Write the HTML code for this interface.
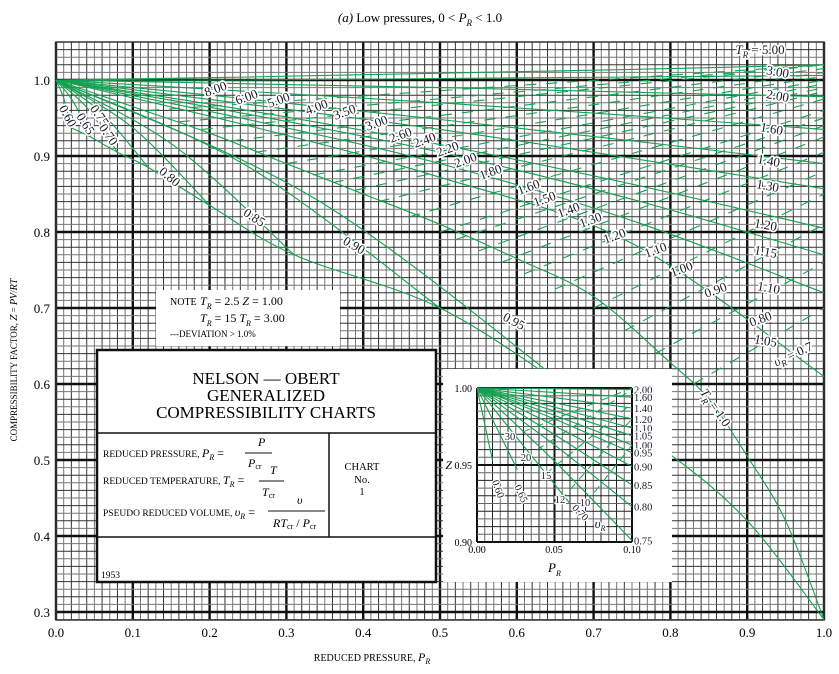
<!DOCTYPE html>
<html><head><meta charset="utf-8"><style>
html,body{margin:0;padding:0;background:#fff}
svg{display:block;font-family:"Liberation Serif",serif}
.lab{font-size:13px;fill:#1a1a2a;stroke:#fff;stroke-width:3.5px;paint-order:stroke;stroke-linejoin:round}
.ilab{font-size:10.5px;fill:#1a1a2a;stroke:#fff;stroke-width:2.5px;paint-order:stroke}
</style></head><body>
<svg id="chart" width="839" height="674" viewBox="0 0 839 674" xmlns="http://www.w3.org/2000/svg">
<text x="420" y="22" text-anchor="middle" font-size="13"><tspan font-style="italic">(a)</tspan>  Low pressures, 0 &lt; <tspan font-style="italic">P</tspan><tspan font-size="9" dy="4" font-style="italic">R</tspan><tspan dy="-4"> &lt; 1.0</tspan></text>
<g id="grid"></g>
<g id="curves"></g>
<g id="labels"></g>
<g id="ticks"></g>
<text x="372" y="661" text-anchor="middle" font-size="10">REDUCED PRESSURE, <tspan font-style="italic" font-size="12">P</tspan><tspan font-size="8" dy="3" font-style="italic">R</tspan></text>
<text transform="translate(17,360) rotate(-90)" text-anchor="middle" font-size="9">COMPRESSIBILITY FACTOR, <tspan font-style="italic" font-size="11">Z</tspan> = <tspan font-style="italic" font-size="10">PV</tspan>/<tspan font-style="italic" font-size="10">RT</tspan></text>

<g>
<rect x="156" y="290" width="184" height="56" fill="#fff"/>
<text x="170" y="305" font-size="10">NOTE</text>
<text x="200" y="305" font-size="12"><tspan font-style="italic">T</tspan><tspan font-size="8" dy="4" font-style="italic">R</tspan><tspan dy="-4"> = 2.5   </tspan><tspan font-style="italic">Z</tspan> = 1.00</text>
<text x="200" y="322" font-size="12"><tspan font-style="italic">T</tspan><tspan font-size="8" dy="4" font-style="italic">R</tspan><tspan dy="-4"> = 15   </tspan><tspan font-style="italic">T</tspan><tspan font-size="8" dy="4" font-style="italic">R</tspan><tspan dy="-4"> = 3.00</tspan></text>
<text x="170" y="337" font-size="9">---DEVIATION &gt; 1.0%</text>
</g>
<g>
<rect x="97" y="350" width="339" height="232" fill="#fff" stroke="#111" stroke-width="2.5"/>
<line x1="97" y1="433" x2="436" y2="433" stroke="#111" stroke-width="1.5"/>
<line x1="97" y1="537" x2="436" y2="537" stroke="#111" stroke-width="1.5"/>
<line x1="329" y1="433" x2="329" y2="537" stroke="#111" stroke-width="1.5"/>
<text x="266" y="384" text-anchor="middle" font-size="17">NELSON — OBERT</text>
<text x="266" y="401" text-anchor="middle" font-size="17">GENERALIZED</text>
<text x="266" y="418" text-anchor="middle" font-size="17">COMPRESSIBILITY CHARTS</text>
<text x="103" y="457" font-size="9.5">REDUCED PRESSURE,  <tspan font-style="italic" font-size="12">P</tspan><tspan font-size="8" dy="3" font-style="italic">R</tspan><tspan dy="-3" font-size="12"> =</tspan></text>
<text x="258" y="446" font-size="12" font-style="italic">P</text>
<line x1="245" y1="453" x2="272" y2="453" stroke="#111"/>
<text x="248" y="467" font-size="12"><tspan font-style="italic">P</tspan><tspan font-size="8" dy="2">cr</tspan></text>
<text x="103" y="484" font-size="9.5">REDUCED TEMPERATURE, <tspan font-style="italic" font-size="12">T</tspan><tspan font-size="8" dy="3" font-style="italic">R</tspan><tspan dy="-3" font-size="12"> =</tspan></text>
<text x="270" y="474" font-size="12" font-style="italic">T</text>
<line x1="259" y1="481" x2="284" y2="481" stroke="#111"/>
<text x="262" y="496" font-size="12"><tspan font-style="italic">T</tspan><tspan font-size="8" dy="2">cr</tspan></text>
<text x="103" y="516" font-size="9.5">PSEUDO REDUCED VOLUME, <tspan font-style="italic" font-size="12">υ</tspan><tspan font-size="8" dy="3" font-style="italic">R</tspan><tspan dy="-3" font-size="12"> =</tspan></text>
<text x="297" y="504" font-size="12" font-style="italic">υ</text>
<line x1="268" y1="511" x2="325" y2="511" stroke="#111"/>
<text x="273" y="527" font-size="12"><tspan font-style="italic">RT</tspan><tspan font-size="8" dy="2">cr</tspan><tspan dy="-2"> / </tspan><tspan font-style="italic">P</tspan><tspan font-size="8" dy="2">cr</tspan></text>
<text x="362" y="470" text-anchor="middle" font-size="10.5">CHART</text>
<text x="362" y="483" text-anchor="middle" font-size="10.5">No.</text>
<text x="362" y="495" text-anchor="middle" font-size="10.5">1</text>
<text x="101" y="578" font-size="9.5">1953</text>
</g>
<g>
<rect x="443" y="369" width="229" height="213" fill="#fff"/>
<g id="igrid"></g><g id="icurves"></g>
<text x="472" y="392" text-anchor="end" font-size="10">1.00</text>
<text x="472" y="469" text-anchor="end" font-size="10"><tspan font-style="italic" font-size="12">Z</tspan>  0.95</text>
<text x="472" y="546" text-anchor="end" font-size="10">0.90</text>
<text x="477" y="553" text-anchor="middle" font-size="10">0.00</text>
<text x="554" y="553" text-anchor="middle" font-size="10">0.05</text>
<text x="632" y="553" text-anchor="middle" font-size="10">0.10</text>
<text x="548" y="572" font-size="13" font-style="italic">P<tspan font-size="8" dy="4">R</tspan></text>
<g id="ilabels"></g>
</g>
</svg>
<script>
const NS="http://www.w3.org/2000/svg";
const isoT=["5.00","3.00","2.00","1.60","1.40","1.30","1.20","1.15","1.10","1.05"];
const isoP=[0,0.25,0.5,0.75,1.0];
const isoZ=[[1,1.004,1.009,1.014,1.02],[1,1.0,1.002,1.004,1.006],[1,0.995,0.99,0.984,0.978],[1,0.985,0.97,0.953,0.935],[1,0.975,0.948,0.92,0.89],[1,0.968,0.935,0.897,0.857],[1,0.96,0.915,0.863,0.805],[1,0.955,0.905,0.843,0.77],[1,0.948,0.89,0.815,0.72],[1,0.94,0.872,0.785,0.61]];
const t1P=[0,0.1,0.2,0.3,0.4,0.5,0.6,0.7,0.8,0.85,0.9,0.95,1.0];
const t1Z=[1,0.965,0.93,0.89,0.85,0.81,0.765,0.715,0.628,0.58,0.505,0.42,0.29];
const subT=["0.60","0.65","0.70","0.75","0.80","0.85","0.90","0.95"];
const subEndP=[0.02,0.045,0.08,0.12,0.2,0.31,0.5,0.68];
const subEndZ=[0.937,0.925,0.905,0.885,0.835,0.77,0.70,0.585];
const satP=[0.02,0.045,0.08,0.12,0.2,0.31,0.5,0.68,0.8,0.9,1.0];
const satZ=[0.937,0.925,0.905,0.885,0.835,0.77,0.70,0.585,0.507,0.42,0.29];
const vR=["8.00","6.00","5.00","4.00","3.50","3.00","2.60","2.40","2.20","2.00","1.80","1.60","1.50","1.40","1.30","1.20","1.10","1.00","0.90","0.80","0.7"];
const vStartP=[0.12,0.16,0.19,0.23,0.26,0.3,0.335,0.36,0.39,0.42,0.46,0.5,0.52,0.55,0.58,0.61,0.65,0.7,0.74,0.78,0.83];
const vStartZ=[0.96,0.945,0.935,0.92,0.905,0.89,0.875,0.865,0.855,0.84,0.82,0.80,0.79,0.775,0.76,0.745,0.725,0.70,0.67,0.64,0.60];
const vEndZ=[1.02,1.02,1.02,1.015,1.01,1.005,1.0,0.995,0.99,0.985,0.975,0.96,0.95,0.94,0.925,0.905,0.88,0.85,0.81,0.76,0.70];
const iT=["2.00","1.60","1.40","1.20","1.10","1.05","1.00","0.95","0.90","0.85","0.80","0.75"];
const iEndZ=[0.999,0.994,0.987,0.98,0.974,0.969,0.963,0.958,0.949,0.937,0.923,0.901];
const iSubT=["0.60","0.65","0.70"];
const iSubP=[0.01,0.026,0.06];
const iSubZ=[0.953,0.947,0.925];
const iV=["30","20","15","12","10"];
const iVP=[0.021,0.031,0.044,0.054,0.07];
const iVZ=[0.968,0.955,0.944,0.927,0.925];
const iVEnd=[1.0,0.999,0.99,0.98,0.963];
const xTicks=["0.0","0.1","0.2","0.3","0.4","0.5","0.6","0.7","0.8","0.9","1.0"];
const yTicks=["1.0","0.9","0.8","0.7","0.6","0.5","0.4","0.3"];
const X=p=>56+768*p, Y=z=>80+(1-z)*760;
const IX=p=>477+1550*p, IY=z=>388+(1-z)*1540;
const G="#14a050";
function el(tag,attrs,parent){const e=document.createElementNS(NS,tag);for(const k in attrs)e.setAttribute(k,attrs[k]);parent.appendChild(e);return e;}
function smooth(pts){let d="M"+pts[0][0].toFixed(1)+","+pts[0][1].toFixed(1);
 for(let i=0;i<pts.length-1;i++){const p0=pts[Math.max(i-1,0)],p1=pts[i],p2=pts[i+1],p3=pts[Math.min(i+2,pts.length-1)];
 const c1=[p1[0]+(p2[0]-p0[0])/6,p1[1]+(p2[1]-p0[1])/6],c2=[p2[0]-(p3[0]-p1[0])/6,p2[1]-(p3[1]-p1[1])/6];
 d+=" C"+c1.map(v=>v.toFixed(1))+" "+c2.map(v=>v.toFixed(1))+" "+p2.map(v=>v.toFixed(1));}return d;}
const grid=document.getElementById('grid');
for(let i=0;i<=100;i++){const x=X(i/100);const l=el('line',{x1:x,y1:42,x2:x,y2:620,stroke:i%10==0?"#111":(i%2?"#777":"#333"),'stroke-width':i%10==0?2.4:1},grid);

}
for(let j=29;j<=105;j++){const y=Y(j/100);const l=el('line',{x1:56,y1:y,x2:824,y2:y,stroke:j%10==0?"#111":(j%2?"#777":"#333"),'stroke-width':j%10==0?2.4:1},grid);

}
el('rect',{x:56,y:42,width:768,height:578,fill:'none',stroke:'#333','stroke-width':1.5},grid);
const curves=document.getElementById('curves');
isoT.forEach((t,k)=>{const p=el('path',{d:smooth(isoP.map((pp,i)=>[X(pp),Y(isoZ[k][i])])),fill:'none',stroke:G,'stroke-width':1.1},curves);

});
{const p=el('path',{d:smooth(t1P.map((pp,i)=>[X(pp),Y(t1Z[i])])),fill:'none',stroke:G,'stroke-width':1.1},curves);

}
subT.forEach((t,k)=>{const ep=subEndP[k],ez=subEndZ[k];const mp=ep/2,mz=1-(1-ez)/2+(1-ez)*0.12;
const p=el('path',{d:smooth([[X(0),Y(1)],[X(mp),Y(mz)],[X(ep),Y(ez)]]),fill:'none',stroke:G,'stroke-width':1.1},curves);

});
{const p=el('path',{d:smooth(satP.map((pp,i)=>[X(pp),Y(satZ[i])])),fill:'none',stroke:G,'stroke-width':1.1},curves);

}
vR.forEach((v,k)=>{const p=el('line',{x1:X(vStartP[k]),y1:Y(vStartZ[k]),x2:X(1),y2:Y(vEndZ[k]),stroke:G,'stroke-width':1.1,'stroke-dasharray':'11 10'},curves);

});
const labels=document.getElementById('labels');
function lab(txt,x,y,rot,parent,cls){const t=el('text',{x:x,y:y,class:cls||'lab','text-anchor':'middle',transform:`rotate(${rot} ${x} ${y})`},parent);t.textContent=txt;

return t;}
const vLabPos=[[217,93],[248,101],[280,104],[318,111],[346,116],[378,127],[402,139],[426,144],[449,153],[467,164],[492,176],[530,191],[546,203],[570,214],[592,224],[616,240],[657,254],[683,273],[717,294],[762,323]];
vLabPos.forEach((q,k)=>lab(vR[k],q[0],q[1],-20,labels));
{const t=lab("",795,358,-25,labels);t.innerHTML='<tspan font-style="italic">υ</tspan><tspan font-size="9" dy="3" font-style="italic">R</tspan><tspan dy="-3"> = 0.7</tspan>';}
const tRight=[["3.00",777,76],["2.00",777,100],["1.60",771,133],["1.40",768,165],["1.30",767,190],["1.20",765,229],["1.15",765,256],["1.10",768,292],["1.05",765,345]];
tRight.forEach(q=>lab(q[0],q[1],q[2],10,labels));
{const t=lab("",760,54,0,labels);t.innerHTML='<tspan font-style="italic">T</tspan><tspan font-size="9" dy="4" font-style="italic">R</tspan><tspan dy="-4"> = 5.00</tspan>';}
{const t=lab("",712,410,55,labels);t.innerHTML='<tspan font-style="italic">T</tspan><tspan font-size="9" dy="4" font-style="italic">R</tspan><tspan dy="-4"> = 1.0</tspan>';}
[["0.60",64,118,62],["0.65",82,126,58],["0.75",96,118,55],["0.70",105,137,55],["0.80",167,180,40],["0.85",252,221,33],["0.90",352,249,30],["0.95",512,325,28]].forEach(q=>lab(q[0],q[1],q[2],q[3],labels));
const ticks=document.getElementById('ticks');
xTicks.forEach((t,i)=>{const e=el('text',{x:X(i/10),y:637,'text-anchor':'middle','font-size':13},ticks);e.textContent=t;

});
yTicks.forEach((t,i)=>{const e=el('text',{x:50,y:Y(1-i/10)+5,'text-anchor':'end','font-size':13},ticks);e.textContent=t;

});
const ig=document.getElementById('igrid');
for(let i=0;i<=20;i++){const x=IX(i*0.005);const l=el('line',{x1:x,y1:IY(1),x2:x,y2:IY(0.9),stroke:i%10==0?"#111":(i%2?"#666":"#222"),'stroke-width':i%10==0?2:1},ig);

}
for(let j=0;j<=20;j++){const y=IY(1-j*0.005);const l=el('line',{x1:IX(0),y1:y,x2:IX(0.1),y2:y,stroke:j%10==0?"#111":(j%2?"#666":"#222"),'stroke-width':j%10==0?2:1},ig);

}
const ic=document.getElementById('icurves');
iT.forEach((t,k)=>{const z=iEndZ[k];const p=el('path',{d:smooth([[IX(0),IY(1)],[IX(0.05),IY(1-(1-z)*0.48)],[IX(0.1),IY(z)]]),fill:'none',stroke:G,'stroke-width':1.1},ic);


const e=el('text',{x:IX(0.1)+2,y:IY(z)+4,class:'ilab'},ic);e.textContent=t;

});
iSubT.forEach((t,k)=>{const p=el('line',{x1:IX(0),y1:IY(1),x2:IX(iSubP[k]),y2:IY(iSubZ[k]),stroke:G,'stroke-width':1.1},ic);

});
iV.forEach((v,k)=>{const p=el('line',{x1:IX(iVP[k]),y1:IY(iVZ[k]),x2:IX(0.1),y2:IY(iVEnd[k]),stroke:G,'stroke-width':1,'stroke-dasharray':'8 6'},ic);

});
const il=document.getElementById('ilabels');
[["30",510,440],["20",526,461],["15",546,479],["12",560,503],["10",585,506]].forEach(q=>lab(q[0],q[1],q[2],0,il,'ilab'));
[["0.60",495,490,70],["0.65",518,495,65],["0.70",578,515,45]].forEach(q=>lab(q[0],q[1],q[2],q[3],il,'ilab'));
{const t=lab("",600,528,0,il,'ilab');t.innerHTML='<tspan font-style="italic" font-size="13">υ</tspan><tspan font-size="8" dy="3" font-style="italic">R</tspan>';}
</script>
</body></html>
